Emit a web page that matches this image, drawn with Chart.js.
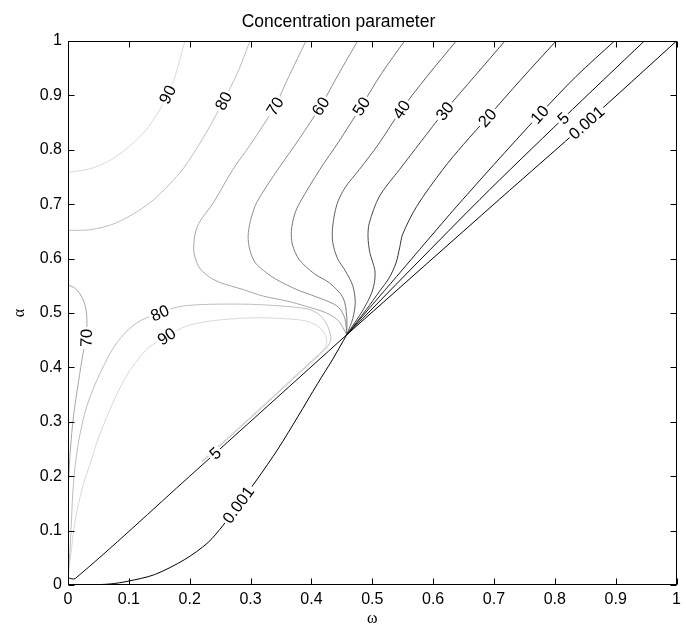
<!DOCTYPE html>
<html><head><meta charset="utf-8">
<script src="https://cdn.jsdelivr.net/npm/chart.js@4"></script>
<style>html,body{margin:0;padding:0;background:#fff;}canvas{display:block;}</style>
</head><body>
<canvas id="c" width="686" height="627"></canvas>
<script>
// ---- values: [omega, alpha] ----
const tickValues = [0,0.1,0.2,0.3,0.4,0.5,0.6,0.7,0.8,0.9,1];

const c90Upper = [[0,0.758],[0.042,0.767],[0.08,0.788],[0.124,0.831],[0.151,0.874],[0.165,0.905],[0.176,0.935],[0.192,1]];
const c80Upper = [[0,0.652],[0.036,0.653],[0.08,0.666],[0.135,0.703],[0.184,0.758],[0.21,0.80],[0.233,0.843],[0.255,0.889],[0.278,0.94],[0.299,1]];
const c70 = [[0.458,0.46],[0.445,0.485],[0.425,0.50],[0.392,0.512],[0.36,0.522],[0.321,0.531],[0.288,0.543],[0.25,0.556],[0.23,0.568],[0.215,0.585],[0.207,0.611],[0.208,0.64],[0.215,0.665],[0.239,0.703],[0.271,0.764],[0.30,0.81],[0.34,0.88],[0.363,0.935],[0.391,1]];
const c60 = [[0.458,0.46],[0.455,0.49],[0.445,0.51],[0.43,0.52],[0.40,0.533],[0.376,0.543],[0.345,0.56],[0.326,0.574],[0.308,0.592],[0.299,0.615],[0.296,0.641],[0.30,0.67],[0.31,0.703],[0.345,0.764],[0.38,0.82],[0.415,0.88],[0.445,0.94],[0.476,1]];
const c50 = [[0.458,0.46],[0.458,0.494],[0.452,0.528],[0.43,0.555],[0.405,0.572],[0.38,0.598],[0.369,0.625],[0.367,0.65],[0.372,0.68],[0.381,0.703],[0.414,0.764],[0.445,0.815],[0.482,0.88],[0.515,0.94],[0.553,1]];
const c40 = [[0.458,0.46],[0.468,0.49],[0.472,0.52],[0.468,0.55],[0.456,0.577],[0.443,0.60],[0.435,0.63],[0.435,0.66],[0.442,0.70],[0.455,0.73],[0.479,0.764],[0.51,0.81],[0.548,0.874],[0.59,0.935],[0.638,1]];
const c30 = [[0.458,0.46],[0.485,0.506],[0.499,0.537],[0.504,0.56],[0.504,0.58],[0.496,0.611],[0.493,0.64],[0.495,0.665],[0.512,0.715],[0.545,0.764],[0.58,0.815],[0.619,0.871],[0.668,0.935],[0.718,1]];
const c20 = [[0.458,0.46],[0.49,0.506],[0.512,0.54],[0.528,0.565],[0.539,0.592],[0.545,0.62],[0.55,0.645],[0.573,0.696],[0.616,0.764],[0.65,0.81],[0.689,0.859],[0.745,0.93],[0.802,1]];
const c10 = [[0.458,0.46],[0.50,0.515],[0.54,0.567],[0.578,0.617],[0.627,0.681],[0.649,0.709],[0.70,0.773],[0.775,0.865],[0.835,0.935],[0.898,1]];
const c5Upper = [[0.458,0.46],[0.677,0.709],[0.813,0.857],[0.947,1]];
const c0001Upper = [[0.458,0.46],[0.709,0.709],[0.852,0.85],[1,1]];
const c80Lower = [[0,0.015],[0.003,0.06],[0.005,0.102],[0.009,0.188],[0.017,0.261],[0.031,0.329],[0.053,0.39],[0.08,0.445],[0.113,0.482],[0.151,0.50],[0.184,0.512],[0.233,0.516],[0.30,0.516],[0.348,0.513],[0.395,0.507],[0.415,0.495],[0.427,0.475],[0.432,0.452],[0.425,0.436],[0.40,0.41],[0.30,0.307],[0.22,0.226]];
const c90Lower = [[0,0.015],[0.004,0.05],[0.012,0.12],[0.024,0.18],[0.04,0.235],[0.047,0.261],[0.069,0.323],[0.096,0.384],[0.129,0.433],[0.162,0.457],[0.195,0.476],[0.239,0.486],[0.30,0.491],[0.35,0.49],[0.392,0.485],[0.415,0.472],[0.425,0.451],[0.422,0.436],[0.40,0.412],[0.30,0.309],[0.22,0.228]];
const c70Left = [[0,0.552],[0.012,0.545],[0.022,0.531],[0.029,0.51],[0.031,0.49],[0.03,0.454],[0.025,0.427],[0.017,0.372],[0.009,0.31],[0.004,0.25],[0.001,0.19],[0,0.12]];
const c5Lower = [[0,0.013],[0.012,0.012],[0.2,0.2],[0.458,0.46]];
const c0001Lower = [[0.035,0],[0.07,0.002],[0.0985,0.007],[0.142,0.019],[0.192,0.047],[0.23,0.078],[0.255,0.11],[0.28,0.148],[0.31,0.193],[0.345,0.25],[0.378,0.31],[0.41,0.37],[0.435,0.415],[0.458,0.46]];

const pieceLevels = ['90','80','70','60','50','40','30','20','10','5','0.001','80','90','70','5','0.001'];
const pieceData = [c90Upper,c80Upper,c70,c60,c50,c40,c30,c20,c10,c5Upper,c0001Upper,c80Lower,c90Lower,c70Left,c5Lower,c0001Lower];

// contour labels (one per piece, same order)
const labelOmega = [0.163,0.257,0.34,0.415,0.482,0.548,0.619,0.689,0.775,0.813,0.852,0.151,0.162,0.030,0.241,0.279];
const labelAlpha = [0.902,0.889,0.88,0.88,0.88,0.874,0.871,0.859,0.865,0.859,0.85,0.50,0.457,0.454,0.243,0.148];

// ---- styles ----
const levelColor = {'0.001':'#000000','5':'#0a0a0a','10':'#1c1c1c','20':'#333333','30':'#4a4a4a','40':'#606060','50':'#777777','60':'#8e8e8e','70':'#a6a6a6','80':'#bebebe','90':'#d8d8d8'};
const SANS = '"Liberation Sans", Arial, Helvetica, sans-serif';
const SERIF = '"Liberation Serif", "DejaVu Serif", serif';
const fmt = v => String(Number(Number(v).toFixed(1)));

const framePlugin = {
  id: 'frame',
  afterDatasetsDraw(chart) {
    const {ctx, scales: {x, y}} = chart;
    ctx.save();
    ctx.font = '16.5px ' + SANS;
    ctx.textAlign = 'center';
    ctx.textBaseline = 'middle';
    pieceLevels.forEach((lev, i) => {
      const pts = pieceData[i].map(p => [x.getPixelForValue(p[0]), y.getPixelForValue(p[1])]);
      const lx = x.getPixelForValue(labelOmega[i]), ly = y.getPixelForValue(labelAlpha[i]);
      let best = 0, bd = Infinity, bx = lx, by = ly;
      for (let k = 0; k < pts.length - 1; k++) {
        const [x1, y1] = pts[k], [x2, y2] = pts[k + 1];
        const dx = x2 - x1, dy = y2 - y1, L = dx * dx + dy * dy || 1;
        let t = ((lx - x1) * dx + (ly - y1) * dy) / L;
        t = Math.max(0, Math.min(1, t));
        const px = x1 + t * dx, py = y1 + t * dy;
        const d = (px - lx) ** 2 + (py - ly) ** 2;
        if (d < bd) { bd = d; best = k; bx = px; by = py; }
      }
      let ang = Math.atan2(pts[best + 1][1] - pts[best][1], pts[best + 1][0] - pts[best][0]);
      if (ang > Math.PI / 2) ang -= Math.PI;
      if (ang < -Math.PI / 2) ang += Math.PI;
      ctx.save();
      ctx.translate(bx, by);
      ctx.rotate(ang);
      const w = ctx.measureText(lev).width;
      ctx.fillStyle = '#fff';
      ctx.fillRect(-w / 2 - 2, -5, w + 4, 10);
      ctx.fillStyle = '#000';
      ctx.fillText(lev, 0, 1);
      ctx.restore();
    });
    ctx.restore();
  },
  afterDraw(chart) {
    const {ctx, chartArea: a, scales: {x, y}} = chart;
    ctx.save();
    ctx.strokeStyle = '#000';
    ctx.lineWidth = 1;
    const L = Math.round(a.left) + 0.5, R = Math.round(a.right) - 0.5;
    const T = Math.round(a.top) + 0.5, B = Math.round(a.bottom) - 0.5;
    ctx.strokeRect(L, T, R - L, B - T);
    ctx.beginPath();
    tickValues.forEach(v => {
      const px = Math.round(x.getPixelForValue(v)) + 0.5;
      ctx.moveTo(px, B); ctx.lineTo(px, B - 6);
      ctx.moveTo(px, T); ctx.lineTo(px, T + 6);
      const py = Math.round(y.getPixelForValue(v)) + 0.5;
      ctx.moveTo(L, py); ctx.lineTo(L + 6, py);
      ctx.moveTo(R, py); ctx.lineTo(R - 6, py);
    });
    ctx.stroke();
    ctx.restore();
  }
};

const datasets = pieceData.map((d, i) => ({
  data: d.map(p => ({x: p[0], y: p[1]})),
  showLine: true,
  borderColor: levelColor[pieceLevels[i]],
  borderWidth: 1,
  pointRadius: 0,
  tension: 0.3,
  fill: false,
  order: parseFloat(pieceLevels[i])
}));

new Chart(document.getElementById('c'), {
  type: 'scatter',
  data: {datasets},
  options: {
    responsive: false,
    animation: false,
    devicePixelRatio: 1,
    layout: {padding: {left: 0, right: 9, top: 0, bottom: 0}},
    plugins: {
      legend: {display: false},
      tooltip: {enabled: false},
      title: {display: true, text: 'Concentration parameter', color: '#000',
        font: {family: SANS, size: 17.5, weight: 'normal', lineHeight: 1.2},
        padding: {top: 12, bottom: 8}}
    },
    scales: {
      x: {
        type: 'linear', min: 0, max: 1,
        ticks: {stepSize: 0.1, color: '#000', font: {family: SANS, size: 16}, padding: 5, maxRotation: 0, autoSkip: false, callback: fmt},
        grid: {display: false, drawTicks: false},
        border: {display: false},
        title: {display: true, text: 'ω', color: '#000', font: {family: SERIF, size: 16, lineHeight: 1}, padding: {top: 0, bottom: 0}},
        afterFit(s) { s.height = 42; }
      },
      y: {
        type: 'linear', min: 0, max: 1,
        ticks: {stepSize: 0.1, color: '#000', font: {family: SANS, size: 16}, padding: 6, autoSkip: false, callback: fmt},
        grid: {display: false, drawTicks: false},
        border: {display: false},
        title: {display: true, text: 'α', color: '#000', font: {family: SERIF, size: 16, lineHeight: 1}, padding: {top: 12, bottom: 0}},
        afterFit(s) { s.width = 68; }
      }
    }
  },
  plugins: [framePlugin]
});
</script>
</body></html>
